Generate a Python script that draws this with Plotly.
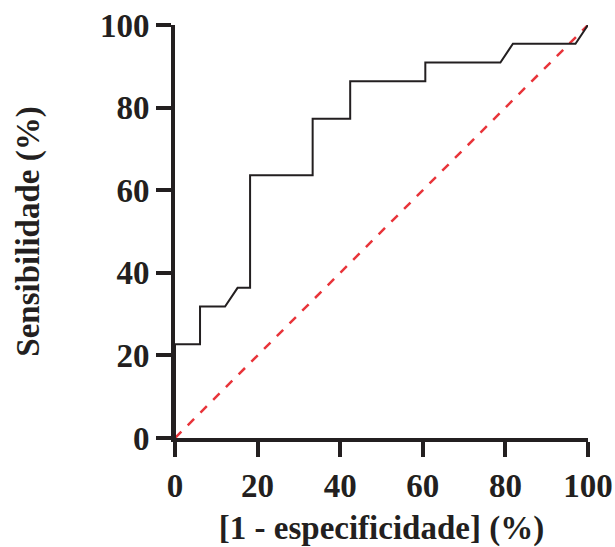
import plotly.graph_objects as go

# ROC curve values (percent)
fpr = [0, 0, 6.06, 6.06, 12.12, 15.15, 18.18, 18.18, 33.33, 33.33, 42.42, 42.42,
       60.61, 60.61, 78.79, 81.82, 96.97, 100]
tpr = [0, 22.73, 22.73, 31.82, 31.82, 36.36, 36.36, 63.64, 63.64, 77.27, 77.27,
       86.36, 86.36, 90.91, 90.91, 95.45, 95.45, 100]
ref_x = [0, 100]
ref_y = [0, 100]
tick_vals = [0, 20, 40, 60, 80, 100]
x_title = "[1 - especificidade] (%)"
y_title = "Sensibilidade (%)"

tick_font = dict(family="Liberation Serif", size=33, color="#231f20", weight="bold")
title_font = dict(family="Liberation Serif", size=33, color="#231f20", weight="bold")

fig = go.Figure()
fig.add_trace(go.Scatter(x=ref_x, y=ref_y, mode="lines",
                         line=dict(color="#e8343a", width=2.5, dash="dash"),
                         hoverinfo="skip", showlegend=False))
fig.add_trace(go.Scatter(x=fpr, y=tpr, mode="lines",
                         line=dict(color="#231f20", width=2),
                         showlegend=False))

axis_common = dict(
    range=[0, 100], tickvals=tick_vals, showgrid=False, zeroline=False,
    showline=True, linecolor="#231f20", linewidth=4,
    ticks="outside", ticklen=15, tickwidth=4, tickcolor="#231f20",
    tickfont=tick_font, automargin=False, ticklabeloverflow="allow",
)
fig.update_xaxes(**axis_common, title=dict(text=x_title, font=title_font, standoff=15))
fig.update_yaxes(**axis_common, title=dict(text=y_title, font=title_font, standoff=51))

fig.update_layout(
    width=615, height=547,
    margin=dict(l=175, r=27, t=25, b=109),
    plot_bgcolor="white", paper_bgcolor="white",
)
fig.write_html("out.html",
               config={"displayModeBar": False},
               post_script="document.body.style.margin='0';document.body.style.overflow='hidden';")
